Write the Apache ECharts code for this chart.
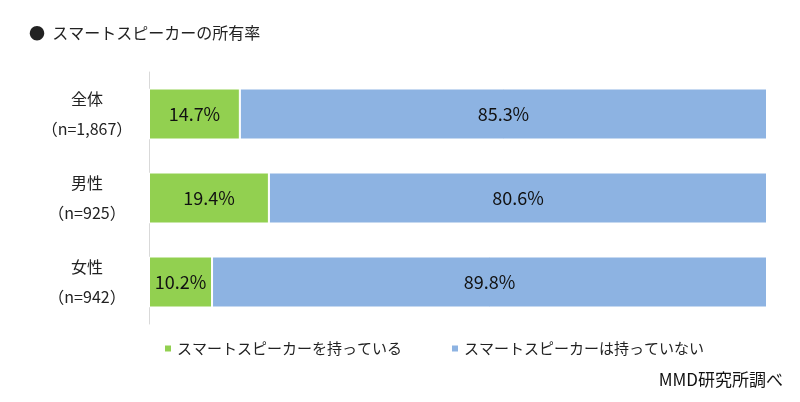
<!DOCTYPE html>
<html><head><meta charset="utf-8">
<script src="https://cdn.jsdelivr.net/npm/echarts@6/dist/echarts.min.js"></script>
<style>html,body{margin:0;padding:0;background:#fff}#c{width:800px;height:402px}</style>
</head><body><div id="c"></div>
<script>
const categories = ['全体', '男性', '女性'];
const sampleSizes = ['n=1,867', 'n=925', 'n=942'];
const ownValues = [14.7, 19.4, 10.2];
const notOwnValues = [85.3, 80.6, 89.8];
const seriesNames = ['スマートスピーカーを持っている', 'スマートスピーカーは持っていない'];

const FONT = '"Noto Sans CJK JP", sans-serif';
const chart = echarts.init(document.getElementById('c'));
const labelStyle = { show: true, position: 'inside', formatter: p => p.value.toFixed(1) + '%', color: '#111', fontSize: 18, fontFamily: FONT };
chart.setOption({
  animation: false,
  textStyle: { fontFamily: FONT },
  title: [
    { text: '●  スマートスピーカーの所有率', left: 24, top: 20, textStyle: { fontSize: 16, fontWeight: 'normal', color: '#222', fontFamily: FONT } },
    { text: 'MMD研究所調べ', right: 12, top: 366, textStyle: { fontSize: 17, fontWeight: 'normal', color: '#111', fontFamily: FONT } }
  ],
  legend: {
    left: 158, top: 336, icon: 'rect', itemWidth: 8, itemHeight: 8, itemGap: 48,
    textStyle: { fontSize: 15, color: '#222', fontFamily: FONT },
    data: seriesNames
  },
  grid: { left: 149, right: 33, top: 72, height: 252 },
  xAxis: { type: 'value', min: 0, max: 100, show: false },
  yAxis: {
    type: 'category', inverse: true, data: categories,
    axisLine: { show: true, lineStyle: { color: '#d9d9d9', width: 1 } },
    axisTick: { show: false },
    axisLabel: {
      margin: 62,
      align: 'center',
      lineHeight: 30,
      fontSize: 16,
      color: '#222',
      fontFamily: FONT,
      formatter: (v, i) => v + '\n（' + sampleSizes[i] + '）'
    }
  },
  series: [
    { name: seriesNames[0], type: 'bar', stack: 'a', barWidth: 51, data: ownValues,
      itemStyle: { color: '#92D050', borderColor: '#fff', borderWidth: 1 }, label: labelStyle },
    { name: seriesNames[1], type: 'bar', stack: 'a', barWidth: 51, data: notOwnValues,
      itemStyle: { color: '#8DB3E2', borderColor: '#fff', borderWidth: 1 }, label: labelStyle }
  ]
});
</script></body></html>
